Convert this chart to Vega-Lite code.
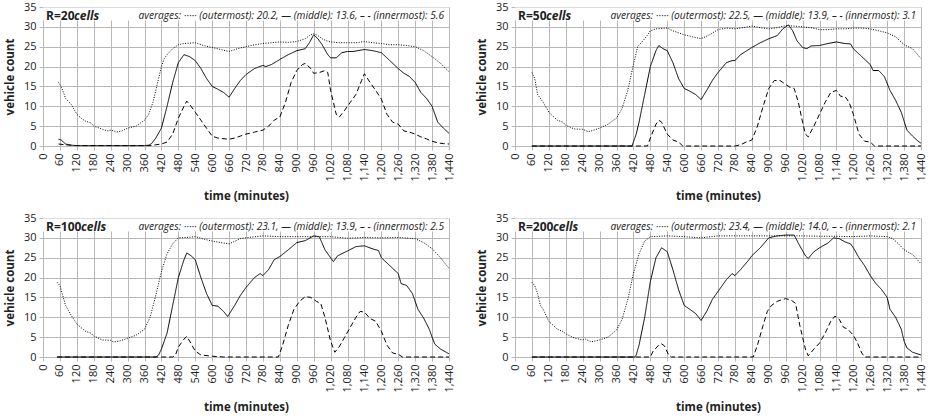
{
"$schema": "https://vega.github.io/schema/vega-lite/v6.json",
"padding": {"left": 4, "top": 1, "right": 5, "bottom": 0},
"config": {
  "font": "Open Sans",
  "view": {"stroke": null},
  "axis": {"grid": true, "labelOverlap": false, "labelBound": false, "gridColor": "#b8b8b8", "gridOpacity": 1, "domainColor": "#b8b8b8", "tickColor": "#b8b8b8", "labelFontSize": 11, "labelColor": "#222", "titleFontSize": 11.5, "titleFontWeight": "bold", "titleColor": "#222", "labelFont": "Open Sans", "titleFont": "Open Sans", "tickSize": 4}
},
"datasets": {
"d": [
{"R":20,"lane":"outermost","time":55,"vehicles":16},{"R":20,"lane":"outermost","time":60,"vehicles":15.5},{"R":20,"lane":"outermost","time":70,"vehicles":14},{"R":20,"lane":"outermost","time":80,"vehicles":12},{"R":20,"lane":"outermost","time":100,"vehicles":10.5},{"R":20,"lane":"outermost","time":120,"vehicles":8},{"R":20,"lane":"outermost","time":135,"vehicles":7},{"R":20,"lane":"outermost","time":150,"vehicles":6.3},{"R":20,"lane":"outermost","time":170,"vehicles":5.8},{"R":20,"lane":"outermost","time":180,"vehicles":5},{"R":20,"lane":"outermost","time":200,"vehicles":4.5},{"R":20,"lane":"outermost","time":215,"vehicles":4.1},{"R":20,"lane":"outermost","time":230,"vehicles":3.8},{"R":20,"lane":"outermost","time":240,"vehicles":4},{"R":20,"lane":"outermost","time":250,"vehicles":3.8},{"R":20,"lane":"outermost","time":260,"vehicles":3.5},{"R":20,"lane":"outermost","time":280,"vehicles":3.8},{"R":20,"lane":"outermost","time":300,"vehicles":4.5},{"R":20,"lane":"outermost","time":330,"vehicles":5},{"R":20,"lane":"outermost","time":350,"vehicles":6},{"R":20,"lane":"outermost","time":360,"vehicles":6.5},{"R":20,"lane":"outermost","time":375,"vehicles":8},{"R":20,"lane":"outermost","time":390,"vehicles":11},{"R":20,"lane":"outermost","time":400,"vehicles":14},{"R":20,"lane":"outermost","time":410,"vehicles":17},{"R":20,"lane":"outermost","time":420,"vehicles":20},{"R":20,"lane":"outermost","time":430,"vehicles":22},{"R":20,"lane":"outermost","time":440,"vehicles":23},{"R":20,"lane":"outermost","time":460,"vehicles":24.5},{"R":20,"lane":"outermost","time":480,"vehicles":25.5},{"R":20,"lane":"outermost","time":500,"vehicles":25.8},{"R":20,"lane":"outermost","time":540,"vehicles":26},{"R":20,"lane":"outermost","time":570,"vehicles":25.3},{"R":20,"lane":"outermost","time":600,"vehicles":24.8},{"R":20,"lane":"outermost","time":630,"vehicles":24.3},{"R":20,"lane":"outermost","time":660,"vehicles":23.8},{"R":20,"lane":"outermost","time":690,"vehicles":24.5},{"R":20,"lane":"outermost","time":720,"vehicles":25},{"R":20,"lane":"outermost","time":750,"vehicles":25.5},{"R":20,"lane":"outermost","time":780,"vehicles":25.8},{"R":20,"lane":"outermost","time":810,"vehicles":26},{"R":20,"lane":"outermost","time":840,"vehicles":26.2},{"R":20,"lane":"outermost","time":870,"vehicles":26.1},{"R":20,"lane":"outermost","time":900,"vehicles":26.3},{"R":20,"lane":"outermost","time":930,"vehicles":27},{"R":20,"lane":"outermost","time":945,"vehicles":27.8},{"R":20,"lane":"outermost","time":960,"vehicles":28.3},{"R":20,"lane":"outermost","time":975,"vehicles":27.8},{"R":20,"lane":"outermost","time":990,"vehicles":27},{"R":20,"lane":"outermost","time":1005,"vehicles":26.5},{"R":20,"lane":"outermost","time":1020,"vehicles":26.2},{"R":20,"lane":"outermost","time":1050,"vehicles":26},{"R":20,"lane":"outermost","time":1080,"vehicles":26},{"R":20,"lane":"outermost","time":1110,"vehicles":26},{"R":20,"lane":"outermost","time":1140,"vehicles":26.3},{"R":20,"lane":"outermost","time":1170,"vehicles":26},{"R":20,"lane":"outermost","time":1200,"vehicles":25.8},{"R":20,"lane":"outermost","time":1230,"vehicles":25.5},{"R":20,"lane":"outermost","time":1260,"vehicles":25.5},{"R":20,"lane":"outermost","time":1290,"vehicles":25.3},{"R":20,"lane":"outermost","time":1320,"vehicles":25},{"R":20,"lane":"outermost","time":1350,"vehicles":24},{"R":20,"lane":"outermost","time":1380,"vehicles":22.5},{"R":20,"lane":"outermost","time":1410,"vehicles":20.8},{"R":20,"lane":"outermost","time":1440,"vehicles":18.7},
{"R":20,"lane":"middle","time":55,"vehicles":1.7},{"R":20,"lane":"middle","time":65,"vehicles":1.5},{"R":20,"lane":"middle","time":80,"vehicles":0.5},{"R":20,"lane":"middle","time":100,"vehicles":0.2},{"R":20,"lane":"middle","time":120,"vehicles":0.1},{"R":20,"lane":"middle","time":360,"vehicles":0.1},{"R":20,"lane":"middle","time":375,"vehicles":0.2},{"R":20,"lane":"middle","time":385,"vehicles":0.6},{"R":20,"lane":"middle","time":400,"vehicles":2},{"R":20,"lane":"middle","time":420,"vehicles":4.5},{"R":20,"lane":"middle","time":440,"vehicles":10},{"R":20,"lane":"middle","time":460,"vehicles":16},{"R":20,"lane":"middle","time":480,"vehicles":21},{"R":20,"lane":"middle","time":500,"vehicles":23},{"R":20,"lane":"middle","time":520,"vehicles":22.5},{"R":20,"lane":"middle","time":540,"vehicles":21.5},{"R":20,"lane":"middle","time":560,"vehicles":19.5},{"R":20,"lane":"middle","time":580,"vehicles":17},{"R":20,"lane":"middle","time":600,"vehicles":15},{"R":20,"lane":"middle","time":620,"vehicles":14.3},{"R":20,"lane":"middle","time":640,"vehicles":13.5},{"R":20,"lane":"middle","time":660,"vehicles":12.3},{"R":20,"lane":"middle","time":680,"vehicles":14.5},{"R":20,"lane":"middle","time":700,"vehicles":16.5},{"R":20,"lane":"middle","time":720,"vehicles":18},{"R":20,"lane":"middle","time":750,"vehicles":19.5},{"R":20,"lane":"middle","time":780,"vehicles":20.3},{"R":20,"lane":"middle","time":790,"vehicles":20},{"R":20,"lane":"middle","time":810,"vehicles":20.5},{"R":20,"lane":"middle","time":840,"vehicles":21.8},{"R":20,"lane":"middle","time":870,"vehicles":23},{"R":20,"lane":"middle","time":900,"vehicles":24},{"R":20,"lane":"middle","time":930,"vehicles":24.5},{"R":20,"lane":"middle","time":945,"vehicles":26},{"R":20,"lane":"middle","time":960,"vehicles":28},{"R":20,"lane":"middle","time":975,"vehicles":27},{"R":20,"lane":"middle","time":990,"vehicles":25.5},{"R":20,"lane":"middle","time":1010,"vehicles":23},{"R":20,"lane":"middle","time":1020,"vehicles":22.2},{"R":20,"lane":"middle","time":1040,"vehicles":22.2},{"R":20,"lane":"middle","time":1060,"vehicles":23.5},{"R":20,"lane":"middle","time":1080,"vehicles":23.8},{"R":20,"lane":"middle","time":1100,"vehicles":23.8},{"R":20,"lane":"middle","time":1140,"vehicles":24.3},{"R":20,"lane":"middle","time":1170,"vehicles":24},{"R":20,"lane":"middle","time":1200,"vehicles":23.5},{"R":20,"lane":"middle","time":1230,"vehicles":21.5},{"R":20,"lane":"middle","time":1260,"vehicles":19.5},{"R":20,"lane":"middle","time":1280,"vehicles":18.3},{"R":20,"lane":"middle","time":1300,"vehicles":17.5},{"R":20,"lane":"middle","time":1320,"vehicles":16},{"R":20,"lane":"middle","time":1340,"vehicles":13.5},{"R":20,"lane":"middle","time":1360,"vehicles":12},{"R":20,"lane":"middle","time":1380,"vehicles":10},{"R":20,"lane":"middle","time":1400,"vehicles":6},{"R":20,"lane":"middle","time":1420,"vehicles":4.5},{"R":20,"lane":"middle","time":1440,"vehicles":3.2},
{"R":20,"lane":"innermost","time":55,"vehicles":0.5},{"R":20,"lane":"innermost","time":80,"vehicles":0.3},{"R":20,"lane":"innermost","time":120,"vehicles":0.1},{"R":20,"lane":"innermost","time":380,"vehicles":0.1},{"R":20,"lane":"innermost","time":400,"vehicles":0.3},{"R":20,"lane":"innermost","time":420,"vehicles":0.5},{"R":20,"lane":"innermost","time":440,"vehicles":1},{"R":20,"lane":"innermost","time":460,"vehicles":3},{"R":20,"lane":"innermost","time":480,"vehicles":7},{"R":20,"lane":"innermost","time":500,"vehicles":10},{"R":20,"lane":"innermost","time":510,"vehicles":11.3},{"R":20,"lane":"innermost","time":520,"vehicles":10.5},{"R":20,"lane":"innermost","time":540,"vehicles":8.5},{"R":20,"lane":"innermost","time":560,"vehicles":6.5},{"R":20,"lane":"innermost","time":580,"vehicles":4.5},{"R":20,"lane":"innermost","time":600,"vehicles":2.5},{"R":20,"lane":"innermost","time":620,"vehicles":2},{"R":20,"lane":"innermost","time":660,"vehicles":1.7},{"R":20,"lane":"innermost","time":680,"vehicles":2},{"R":20,"lane":"innermost","time":700,"vehicles":2.5},{"R":20,"lane":"innermost","time":720,"vehicles":3},{"R":20,"lane":"innermost","time":750,"vehicles":3.5},{"R":20,"lane":"innermost","time":780,"vehicles":4},{"R":20,"lane":"innermost","time":800,"vehicles":5},{"R":20,"lane":"innermost","time":820,"vehicles":6.5},{"R":20,"lane":"innermost","time":840,"vehicles":7.3},{"R":20,"lane":"innermost","time":860,"vehicles":11},{"R":20,"lane":"innermost","time":880,"vehicles":16},{"R":20,"lane":"innermost","time":900,"vehicles":19},{"R":20,"lane":"innermost","time":920,"vehicles":20.5},{"R":20,"lane":"innermost","time":930,"vehicles":20.8},{"R":20,"lane":"innermost","time":950,"vehicles":19.5},{"R":20,"lane":"innermost","time":960,"vehicles":18.3},{"R":20,"lane":"innermost","time":980,"vehicles":18.5},{"R":20,"lane":"innermost","time":1000,"vehicles":19},{"R":20,"lane":"innermost","time":1010,"vehicles":18.5},{"R":20,"lane":"innermost","time":1020,"vehicles":14},{"R":20,"lane":"innermost","time":1040,"vehicles":8},{"R":20,"lane":"innermost","time":1050,"vehicles":7.2},{"R":20,"lane":"innermost","time":1070,"vehicles":9},{"R":20,"lane":"innermost","time":1090,"vehicles":11},{"R":20,"lane":"innermost","time":1110,"vehicles":13},{"R":20,"lane":"innermost","time":1130,"vehicles":16.5},{"R":20,"lane":"innermost","time":1140,"vehicles":18.2},{"R":20,"lane":"innermost","time":1160,"vehicles":16},{"R":20,"lane":"innermost","time":1180,"vehicles":14},{"R":20,"lane":"innermost","time":1200,"vehicles":11.8},{"R":20,"lane":"innermost","time":1220,"vehicles":8},{"R":20,"lane":"innermost","time":1240,"vehicles":6},{"R":20,"lane":"innermost","time":1260,"vehicles":5.5},{"R":20,"lane":"innermost","time":1280,"vehicles":3.8},{"R":20,"lane":"innermost","time":1300,"vehicles":3.5},{"R":20,"lane":"innermost","time":1320,"vehicles":3},{"R":20,"lane":"innermost","time":1340,"vehicles":2.3},{"R":20,"lane":"innermost","time":1360,"vehicles":1.8},{"R":20,"lane":"innermost","time":1380,"vehicles":1.2},{"R":20,"lane":"innermost","time":1400,"vehicles":0.8},{"R":20,"lane":"innermost","time":1420,"vehicles":0.6},{"R":20,"lane":"innermost","time":1440,"vehicles":0.5},
{"R":50,"lane":"outermost","time":60,"vehicles":18.5},{"R":50,"lane":"outermost","time":70,"vehicles":17},{"R":50,"lane":"outermost","time":80,"vehicles":13},{"R":50,"lane":"outermost","time":100,"vehicles":11},{"R":50,"lane":"outermost","time":120,"vehicles":8.5},{"R":50,"lane":"outermost","time":150,"vehicles":6.5},{"R":50,"lane":"outermost","time":170,"vehicles":6},{"R":50,"lane":"outermost","time":180,"vehicles":5.2},{"R":50,"lane":"outermost","time":210,"vehicles":4.3},{"R":50,"lane":"outermost","time":240,"vehicles":4.2},{"R":50,"lane":"outermost","time":260,"vehicles":3.6},{"R":50,"lane":"outermost","time":280,"vehicles":4},{"R":50,"lane":"outermost","time":300,"vehicles":4.5},{"R":50,"lane":"outermost","time":330,"vehicles":5.5},{"R":50,"lane":"outermost","time":360,"vehicles":7},{"R":50,"lane":"outermost","time":380,"vehicles":9.5},{"R":50,"lane":"outermost","time":400,"vehicles":14},{"R":50,"lane":"outermost","time":420,"vehicles":20.5},{"R":50,"lane":"outermost","time":435,"vehicles":25},{"R":50,"lane":"outermost","time":460,"vehicles":27},{"R":50,"lane":"outermost","time":480,"vehicles":29},{"R":50,"lane":"outermost","time":500,"vehicles":29.5},{"R":50,"lane":"outermost","time":540,"vehicles":29.7},{"R":50,"lane":"outermost","time":560,"vehicles":29},{"R":50,"lane":"outermost","time":600,"vehicles":28},{"R":50,"lane":"outermost","time":630,"vehicles":27.5},{"R":50,"lane":"outermost","time":660,"vehicles":27},{"R":50,"lane":"outermost","time":690,"vehicles":28},{"R":50,"lane":"outermost","time":720,"vehicles":29.3},{"R":50,"lane":"outermost","time":750,"vehicles":29.7},{"R":50,"lane":"outermost","time":780,"vehicles":29.5},{"R":50,"lane":"outermost","time":810,"vehicles":29.8},{"R":50,"lane":"outermost","time":840,"vehicles":30.2},{"R":50,"lane":"outermost","time":870,"vehicles":29.8},{"R":50,"lane":"outermost","time":900,"vehicles":29.5},{"R":50,"lane":"outermost","time":930,"vehicles":29.8},{"R":50,"lane":"outermost","time":960,"vehicles":30.3},{"R":50,"lane":"outermost","time":990,"vehicles":30.2},{"R":50,"lane":"outermost","time":1020,"vehicles":30},{"R":50,"lane":"outermost","time":1050,"vehicles":29.8},{"R":50,"lane":"outermost","time":1080,"vehicles":29.3},{"R":50,"lane":"outermost","time":1110,"vehicles":29.3},{"R":50,"lane":"outermost","time":1140,"vehicles":29.5},{"R":50,"lane":"outermost","time":1170,"vehicles":29.5},{"R":50,"lane":"outermost","time":1200,"vehicles":29.7},{"R":50,"lane":"outermost","time":1230,"vehicles":29.7},{"R":50,"lane":"outermost","time":1260,"vehicles":29.5},{"R":50,"lane":"outermost","time":1290,"vehicles":29},{"R":50,"lane":"outermost","time":1320,"vehicles":28.5},{"R":50,"lane":"outermost","time":1350,"vehicles":27.5},{"R":50,"lane":"outermost","time":1380,"vehicles":25.5},{"R":50,"lane":"outermost","time":1410,"vehicles":24.5},{"R":50,"lane":"outermost","time":1440,"vehicles":22},
{"R":50,"lane":"middle","time":60,"vehicles":0},{"R":50,"lane":"middle","time":415,"vehicles":0},{"R":50,"lane":"middle","time":420,"vehicles":1},{"R":50,"lane":"middle","time":430,"vehicles":3},{"R":50,"lane":"middle","time":440,"vehicles":6},{"R":50,"lane":"middle","time":460,"vehicles":13},{"R":50,"lane":"middle","time":480,"vehicles":20},{"R":50,"lane":"middle","time":500,"vehicles":24},{"R":50,"lane":"middle","time":510,"vehicles":25.3},{"R":50,"lane":"middle","time":525,"vehicles":24.5},{"R":50,"lane":"middle","time":540,"vehicles":24},{"R":50,"lane":"middle","time":560,"vehicles":21},{"R":50,"lane":"middle","time":580,"vehicles":17},{"R":50,"lane":"middle","time":600,"vehicles":14.5},{"R":50,"lane":"middle","time":620,"vehicles":13.8},{"R":50,"lane":"middle","time":640,"vehicles":13},{"R":50,"lane":"middle","time":660,"vehicles":11.7},{"R":50,"lane":"middle","time":680,"vehicles":14},{"R":50,"lane":"middle","time":700,"vehicles":16.5},{"R":50,"lane":"middle","time":720,"vehicles":18.5},{"R":50,"lane":"middle","time":750,"vehicles":21},{"R":50,"lane":"middle","time":770,"vehicles":21.5},{"R":50,"lane":"middle","time":780,"vehicles":21.5},{"R":50,"lane":"middle","time":800,"vehicles":23},{"R":50,"lane":"middle","time":840,"vehicles":24.8},{"R":50,"lane":"middle","time":870,"vehicles":26},{"R":50,"lane":"middle","time":900,"vehicles":27},{"R":50,"lane":"middle","time":930,"vehicles":27.8},{"R":50,"lane":"middle","time":950,"vehicles":29.5},{"R":50,"lane":"middle","time":970,"vehicles":30.5},{"R":50,"lane":"middle","time":985,"vehicles":29},{"R":50,"lane":"middle","time":1000,"vehicles":26.5},{"R":50,"lane":"middle","time":1020,"vehicles":24.8},{"R":50,"lane":"middle","time":1035,"vehicles":24.5},{"R":50,"lane":"middle","time":1050,"vehicles":25.2},{"R":50,"lane":"middle","time":1080,"vehicles":25.3},{"R":50,"lane":"middle","time":1110,"vehicles":25.8},{"R":50,"lane":"middle","time":1140,"vehicles":26.2},{"R":50,"lane":"middle","time":1170,"vehicles":25.8},{"R":50,"lane":"middle","time":1190,"vehicles":25.7},{"R":50,"lane":"middle","time":1200,"vehicles":24.5},{"R":50,"lane":"middle","time":1230,"vehicles":22.5},{"R":50,"lane":"middle","time":1260,"vehicles":20.5},{"R":50,"lane":"middle","time":1270,"vehicles":19},{"R":50,"lane":"middle","time":1290,"vehicles":19},{"R":50,"lane":"middle","time":1310,"vehicles":17.5},{"R":50,"lane":"middle","time":1330,"vehicles":14},{"R":50,"lane":"middle","time":1350,"vehicles":11.5},{"R":50,"lane":"middle","time":1370,"vehicles":8.5},{"R":50,"lane":"middle","time":1390,"vehicles":4},{"R":50,"lane":"middle","time":1410,"vehicles":2.5},{"R":50,"lane":"middle","time":1430,"vehicles":1.2},{"R":50,"lane":"middle","time":1440,"vehicles":0.7},
{"R":50,"lane":"innermost","time":60,"vehicles":0},{"R":50,"lane":"innermost","time":470,"vehicles":0},{"R":50,"lane":"innermost","time":480,"vehicles":2},{"R":50,"lane":"innermost","time":500,"vehicles":5.5},{"R":50,"lane":"innermost","time":510,"vehicles":6.5},{"R":50,"lane":"innermost","time":520,"vehicles":6},{"R":50,"lane":"innermost","time":540,"vehicles":3},{"R":50,"lane":"innermost","time":560,"vehicles":1.5},{"R":50,"lane":"innermost","time":580,"vehicles":1},{"R":50,"lane":"innermost","time":595,"vehicles":0},{"R":50,"lane":"innermost","time":780,"vehicles":0},{"R":50,"lane":"innermost","time":800,"vehicles":0.3},{"R":50,"lane":"innermost","time":820,"vehicles":1},{"R":50,"lane":"innermost","time":840,"vehicles":1.5},{"R":50,"lane":"innermost","time":860,"vehicles":5},{"R":50,"lane":"innermost","time":880,"vehicles":10},{"R":50,"lane":"innermost","time":900,"vehicles":14.5},{"R":50,"lane":"innermost","time":920,"vehicles":16.5},{"R":50,"lane":"innermost","time":940,"vehicles":16.5},{"R":50,"lane":"innermost","time":960,"vehicles":15.5},{"R":50,"lane":"innermost","time":975,"vehicles":14.8},{"R":50,"lane":"innermost","time":990,"vehicles":14.5},{"R":50,"lane":"innermost","time":1005,"vehicles":11},{"R":50,"lane":"innermost","time":1020,"vehicles":6},{"R":50,"lane":"innermost","time":1030,"vehicles":3},{"R":50,"lane":"innermost","time":1040,"vehicles":2.3},{"R":50,"lane":"innermost","time":1060,"vehicles":5},{"R":50,"lane":"innermost","time":1080,"vehicles":8},{"R":50,"lane":"innermost","time":1100,"vehicles":11},{"R":50,"lane":"innermost","time":1120,"vehicles":13.5},{"R":50,"lane":"innermost","time":1140,"vehicles":14},{"R":50,"lane":"innermost","time":1155,"vehicles":12.5},{"R":50,"lane":"innermost","time":1170,"vehicles":12.5},{"R":50,"lane":"innermost","time":1185,"vehicles":11},{"R":50,"lane":"innermost","time":1200,"vehicles":8},{"R":50,"lane":"innermost","time":1220,"vehicles":3},{"R":50,"lane":"innermost","time":1240,"vehicles":1.2},{"R":50,"lane":"innermost","time":1260,"vehicles":1},{"R":50,"lane":"innermost","time":1275,"vehicles":0},{"R":50,"lane":"innermost","time":1440,"vehicles":0},
{"R":100,"lane":"outermost","time":50,"vehicles":18.8},{"R":100,"lane":"outermost","time":60,"vehicles":18},{"R":100,"lane":"outermost","time":80,"vehicles":13},{"R":100,"lane":"outermost","time":100,"vehicles":10.5},{"R":100,"lane":"outermost","time":120,"vehicles":8.3},{"R":100,"lane":"outermost","time":150,"vehicles":6.5},{"R":100,"lane":"outermost","time":170,"vehicles":6},{"R":100,"lane":"outermost","time":180,"vehicles":5.3},{"R":100,"lane":"outermost","time":210,"vehicles":4.3},{"R":100,"lane":"outermost","time":240,"vehicles":4.2},{"R":100,"lane":"outermost","time":250,"vehicles":3.8},{"R":100,"lane":"outermost","time":270,"vehicles":4},{"R":100,"lane":"outermost","time":300,"vehicles":4.7},{"R":100,"lane":"outermost","time":330,"vehicles":5.5},{"R":100,"lane":"outermost","time":360,"vehicles":7},{"R":100,"lane":"outermost","time":380,"vehicles":10},{"R":100,"lane":"outermost","time":400,"vehicles":15.5},{"R":100,"lane":"outermost","time":420,"vehicles":21.5},{"R":100,"lane":"outermost","time":440,"vehicles":26},{"R":100,"lane":"outermost","time":460,"vehicles":28.5},{"R":100,"lane":"outermost","time":480,"vehicles":30},{"R":100,"lane":"outermost","time":510,"vehicles":30.1},{"R":100,"lane":"outermost","time":540,"vehicles":30.3},{"R":100,"lane":"outermost","time":570,"vehicles":29.7},{"R":100,"lane":"outermost","time":600,"vehicles":29.2},{"R":100,"lane":"outermost","time":630,"vehicles":28.8},{"R":100,"lane":"outermost","time":660,"vehicles":28.5},{"R":100,"lane":"outermost","time":700,"vehicles":29.8},{"R":100,"lane":"outermost","time":740,"vehicles":30.2},{"R":100,"lane":"outermost","time":780,"vehicles":30.5},{"R":100,"lane":"outermost","time":840,"vehicles":30.3},{"R":100,"lane":"outermost","time":900,"vehicles":30.3},{"R":100,"lane":"outermost","time":960,"vehicles":30.3},{"R":100,"lane":"outermost","time":1020,"vehicles":30.3},{"R":100,"lane":"outermost","time":1080,"vehicles":29.9},{"R":100,"lane":"outermost","time":1140,"vehicles":30.1},{"R":100,"lane":"outermost","time":1200,"vehicles":30},{"R":100,"lane":"outermost","time":1260,"vehicles":30.1},{"R":100,"lane":"outermost","time":1320,"vehicles":29.8},{"R":100,"lane":"outermost","time":1350,"vehicles":28.8},{"R":100,"lane":"outermost","time":1380,"vehicles":27.3},{"R":100,"lane":"outermost","time":1410,"vehicles":25},{"R":100,"lane":"outermost","time":1440,"vehicles":22.3},
{"R":100,"lane":"middle","time":50,"vehicles":0},{"R":100,"lane":"middle","time":400,"vehicles":0},{"R":100,"lane":"middle","time":410,"vehicles":0.5},{"R":100,"lane":"middle","time":420,"vehicles":2},{"R":100,"lane":"middle","time":440,"vehicles":6},{"R":100,"lane":"middle","time":460,"vehicles":13},{"R":100,"lane":"middle","time":480,"vehicles":20},{"R":100,"lane":"middle","time":500,"vehicles":24.5},{"R":100,"lane":"middle","time":510,"vehicles":26.2},{"R":100,"lane":"middle","time":525,"vehicles":25.5},{"R":100,"lane":"middle","time":540,"vehicles":24.5},{"R":100,"lane":"middle","time":560,"vehicles":20},{"R":100,"lane":"middle","time":580,"vehicles":16},{"R":100,"lane":"middle","time":600,"vehicles":13},{"R":100,"lane":"middle","time":620,"vehicles":12.8},{"R":100,"lane":"middle","time":640,"vehicles":11.5},{"R":100,"lane":"middle","time":655,"vehicles":10.2},{"R":100,"lane":"middle","time":680,"vehicles":13},{"R":100,"lane":"middle","time":700,"vehicles":15.5},{"R":100,"lane":"middle","time":720,"vehicles":17.5},{"R":100,"lane":"middle","time":750,"vehicles":20},{"R":100,"lane":"middle","time":770,"vehicles":21},{"R":100,"lane":"middle","time":780,"vehicles":20.5},{"R":100,"lane":"middle","time":800,"vehicles":22},{"R":100,"lane":"middle","time":820,"vehicles":24.5},{"R":100,"lane":"middle","time":840,"vehicles":25.3},{"R":100,"lane":"middle","time":870,"vehicles":27},{"R":100,"lane":"middle","time":900,"vehicles":28.8},{"R":100,"lane":"middle","time":930,"vehicles":29.3},{"R":100,"lane":"middle","time":960,"vehicles":30.5},{"R":100,"lane":"middle","time":980,"vehicles":30.3},{"R":100,"lane":"middle","time":1000,"vehicles":27},{"R":100,"lane":"middle","time":1020,"vehicles":25},{"R":100,"lane":"middle","time":1030,"vehicles":24},{"R":100,"lane":"middle","time":1045,"vehicles":25.5},{"R":100,"lane":"middle","time":1080,"vehicles":26.7},{"R":100,"lane":"middle","time":1110,"vehicles":27.8},{"R":100,"lane":"middle","time":1140,"vehicles":28},{"R":100,"lane":"middle","time":1170,"vehicles":27.2},{"R":100,"lane":"middle","time":1190,"vehicles":26.8},{"R":100,"lane":"middle","time":1200,"vehicles":25},{"R":100,"lane":"middle","time":1230,"vehicles":23},{"R":100,"lane":"middle","time":1260,"vehicles":21},{"R":100,"lane":"middle","time":1270,"vehicles":18.5},{"R":100,"lane":"middle","time":1290,"vehicles":18},{"R":100,"lane":"middle","time":1310,"vehicles":16},{"R":100,"lane":"middle","time":1330,"vehicles":12},{"R":100,"lane":"middle","time":1350,"vehicles":9.8},{"R":100,"lane":"middle","time":1370,"vehicles":7},{"R":100,"lane":"middle","time":1380,"vehicles":5},{"R":100,"lane":"middle","time":1390,"vehicles":3.2},{"R":100,"lane":"middle","time":1410,"vehicles":2},{"R":100,"lane":"middle","time":1430,"vehicles":1.2},{"R":100,"lane":"middle","time":1440,"vehicles":0.8},
{"R":100,"lane":"innermost","time":50,"vehicles":0},{"R":100,"lane":"innermost","time":460,"vehicles":0},{"R":100,"lane":"innermost","time":470,"vehicles":0.5},{"R":100,"lane":"innermost","time":480,"vehicles":2.5},{"R":100,"lane":"innermost","time":500,"vehicles":4.5},{"R":100,"lane":"innermost","time":510,"vehicles":5.2},{"R":100,"lane":"innermost","time":520,"vehicles":4},{"R":100,"lane":"innermost","time":540,"vehicles":1.5},{"R":100,"lane":"innermost","time":560,"vehicles":0.5},{"R":100,"lane":"innermost","time":600,"vehicles":0.2},{"R":100,"lane":"innermost","time":640,"vehicles":0},{"R":100,"lane":"innermost","time":835,"vehicles":0},{"R":100,"lane":"innermost","time":850,"vehicles":3},{"R":100,"lane":"innermost","time":870,"vehicles":8},{"R":100,"lane":"innermost","time":890,"vehicles":12},{"R":100,"lane":"innermost","time":910,"vehicles":14},{"R":100,"lane":"innermost","time":930,"vehicles":15.2},{"R":100,"lane":"innermost","time":950,"vehicles":15},{"R":100,"lane":"innermost","time":970,"vehicles":14},{"R":100,"lane":"innermost","time":985,"vehicles":13.5},{"R":100,"lane":"innermost","time":1000,"vehicles":10},{"R":100,"lane":"innermost","time":1020,"vehicles":4},{"R":100,"lane":"innermost","time":1035,"vehicles":1.2},{"R":100,"lane":"innermost","time":1050,"vehicles":2.5},{"R":100,"lane":"innermost","time":1070,"vehicles":5},{"R":100,"lane":"innermost","time":1090,"vehicles":7.5},{"R":100,"lane":"innermost","time":1110,"vehicles":10},{"R":100,"lane":"innermost","time":1125,"vehicles":11.5},{"R":100,"lane":"innermost","time":1140,"vehicles":11.3},{"R":100,"lane":"innermost","time":1160,"vehicles":9.7},{"R":100,"lane":"innermost","time":1180,"vehicles":9},{"R":100,"lane":"innermost","time":1200,"vehicles":6.5},{"R":100,"lane":"innermost","time":1220,"vehicles":3},{"R":100,"lane":"innermost","time":1240,"vehicles":1},{"R":100,"lane":"innermost","time":1260,"vehicles":0.7},{"R":100,"lane":"innermost","time":1275,"vehicles":0},{"R":100,"lane":"innermost","time":1440,"vehicles":0},
{"R":200,"lane":"outermost","time":60,"vehicles":18.8},{"R":200,"lane":"outermost","time":70,"vehicles":18},{"R":200,"lane":"outermost","time":80,"vehicles":16},{"R":200,"lane":"outermost","time":90,"vehicles":13},{"R":200,"lane":"outermost","time":100,"vehicles":12},{"R":200,"lane":"outermost","time":120,"vehicles":9},{"R":200,"lane":"outermost","time":150,"vehicles":7},{"R":200,"lane":"outermost","time":170,"vehicles":6.4},{"R":200,"lane":"outermost","time":180,"vehicles":5.8},{"R":200,"lane":"outermost","time":210,"vehicles":4.8},{"R":200,"lane":"outermost","time":240,"vehicles":4.3},{"R":200,"lane":"outermost","time":250,"vehicles":4.5},{"R":200,"lane":"outermost","time":270,"vehicles":3.8},{"R":200,"lane":"outermost","time":300,"vehicles":4.3},{"R":200,"lane":"outermost","time":330,"vehicles":5},{"R":200,"lane":"outermost","time":360,"vehicles":6.8},{"R":200,"lane":"outermost","time":380,"vehicles":9.5},{"R":200,"lane":"outermost","time":400,"vehicles":14.5},{"R":200,"lane":"outermost","time":420,"vehicles":21},{"R":200,"lane":"outermost","time":440,"vehicles":26},{"R":200,"lane":"outermost","time":460,"vehicles":29.2},{"R":200,"lane":"outermost","time":480,"vehicles":30.3},{"R":200,"lane":"outermost","time":540,"vehicles":30.5},{"R":200,"lane":"outermost","time":600,"vehicles":30.3},{"R":200,"lane":"outermost","time":660,"vehicles":30},{"R":200,"lane":"outermost","time":720,"vehicles":30.5},{"R":200,"lane":"outermost","time":780,"vehicles":30.5},{"R":200,"lane":"outermost","time":840,"vehicles":30.5},{"R":200,"lane":"outermost","time":900,"vehicles":30.5},{"R":200,"lane":"outermost","time":960,"vehicles":30.5},{"R":200,"lane":"outermost","time":1020,"vehicles":30.5},{"R":200,"lane":"outermost","time":1080,"vehicles":30.4},{"R":200,"lane":"outermost","time":1140,"vehicles":30.4},{"R":200,"lane":"outermost","time":1200,"vehicles":30.3},{"R":200,"lane":"outermost","time":1260,"vehicles":30.5},{"R":200,"lane":"outermost","time":1320,"vehicles":30.3},{"R":200,"lane":"outermost","time":1340,"vehicles":29.8},{"R":200,"lane":"outermost","time":1360,"vehicles":28.5},{"R":200,"lane":"outermost","time":1380,"vehicles":27},{"R":200,"lane":"outermost","time":1410,"vehicles":25.8},{"R":200,"lane":"outermost","time":1440,"vehicles":23.5},
{"R":200,"lane":"middle","time":60,"vehicles":0},{"R":200,"lane":"middle","time":425,"vehicles":0},{"R":200,"lane":"middle","time":430,"vehicles":0.5},{"R":200,"lane":"middle","time":440,"vehicles":3},{"R":200,"lane":"middle","time":460,"vehicles":10},{"R":200,"lane":"middle","time":480,"vehicles":19},{"R":200,"lane":"middle","time":500,"vehicles":25},{"R":200,"lane":"middle","time":520,"vehicles":27.5},{"R":200,"lane":"middle","time":540,"vehicles":26.5},{"R":200,"lane":"middle","time":560,"vehicles":22},{"R":200,"lane":"middle","time":580,"vehicles":17},{"R":200,"lane":"middle","time":600,"vehicles":13},{"R":200,"lane":"middle","time":620,"vehicles":12},{"R":200,"lane":"middle","time":640,"vehicles":11},{"R":200,"lane":"middle","time":660,"vehicles":9.2},{"R":200,"lane":"middle","time":680,"vehicles":11.5},{"R":200,"lane":"middle","time":700,"vehicles":14.5},{"R":200,"lane":"middle","time":720,"vehicles":16.5},{"R":200,"lane":"middle","time":750,"vehicles":19.5},{"R":200,"lane":"middle","time":770,"vehicles":21},{"R":200,"lane":"middle","time":780,"vehicles":20.5},{"R":200,"lane":"middle","time":800,"vehicles":22},{"R":200,"lane":"middle","time":830,"vehicles":24.5},{"R":200,"lane":"middle","time":840,"vehicles":25.5},{"R":200,"lane":"middle","time":870,"vehicles":27.5},{"R":200,"lane":"middle","time":900,"vehicles":30},{"R":200,"lane":"middle","time":930,"vehicles":30.5},{"R":200,"lane":"middle","time":960,"vehicles":30.7},{"R":200,"lane":"middle","time":990,"vehicles":30.7},{"R":200,"lane":"middle","time":1010,"vehicles":28},{"R":200,"lane":"middle","time":1030,"vehicles":25.5},{"R":200,"lane":"middle","time":1040,"vehicles":24.8},{"R":200,"lane":"middle","time":1060,"vehicles":26.5},{"R":200,"lane":"middle","time":1080,"vehicles":27.5},{"R":200,"lane":"middle","time":1110,"vehicles":28.7},{"R":200,"lane":"middle","time":1130,"vehicles":30},{"R":200,"lane":"middle","time":1150,"vehicles":29.8},{"R":200,"lane":"middle","time":1170,"vehicles":29},{"R":200,"lane":"middle","time":1190,"vehicles":28.5},{"R":200,"lane":"middle","time":1200,"vehicles":27.5},{"R":200,"lane":"middle","time":1220,"vehicles":25},{"R":200,"lane":"middle","time":1240,"vehicles":23},{"R":200,"lane":"middle","time":1260,"vehicles":20.5},{"R":200,"lane":"middle","time":1280,"vehicles":18.5},{"R":200,"lane":"middle","time":1300,"vehicles":17},{"R":200,"lane":"middle","time":1320,"vehicles":15},{"R":200,"lane":"middle","time":1330,"vehicles":12},{"R":200,"lane":"middle","time":1350,"vehicles":10},{"R":200,"lane":"middle","time":1370,"vehicles":7},{"R":200,"lane":"middle","time":1380,"vehicles":4},{"R":200,"lane":"middle","time":1390,"vehicles":2.3},{"R":200,"lane":"middle","time":1410,"vehicles":1.2},{"R":200,"lane":"middle","time":1440,"vehicles":0.5},
{"R":200,"lane":"innermost","time":60,"vehicles":0},{"R":200,"lane":"innermost","time":480,"vehicles":0},{"R":200,"lane":"innermost","time":490,"vehicles":1.5},{"R":200,"lane":"innermost","time":510,"vehicles":3},{"R":200,"lane":"innermost","time":520,"vehicles":3.3},{"R":200,"lane":"innermost","time":530,"vehicles":2.8},{"R":200,"lane":"innermost","time":545,"vehicles":0.5},{"R":200,"lane":"innermost","time":555,"vehicles":0},{"R":200,"lane":"innermost","time":845,"vehicles":0},{"R":200,"lane":"innermost","time":860,"vehicles":3},{"R":200,"lane":"innermost","time":880,"vehicles":8},{"R":200,"lane":"innermost","time":895,"vehicles":11.5},{"R":200,"lane":"innermost","time":910,"vehicles":13},{"R":200,"lane":"innermost","time":930,"vehicles":14},{"R":200,"lane":"innermost","time":950,"vehicles":14.5},{"R":200,"lane":"innermost","time":960,"vehicles":14.7},{"R":200,"lane":"innermost","time":980,"vehicles":14.3},{"R":200,"lane":"innermost","time":995,"vehicles":13.5},{"R":200,"lane":"innermost","time":1010,"vehicles":8},{"R":200,"lane":"innermost","time":1030,"vehicles":2},{"R":200,"lane":"innermost","time":1040,"vehicles":0.3},{"R":200,"lane":"innermost","time":1060,"vehicles":2},{"R":200,"lane":"innermost","time":1080,"vehicles":3.5},{"R":200,"lane":"innermost","time":1100,"vehicles":6},{"R":200,"lane":"innermost","time":1120,"vehicles":9},{"R":200,"lane":"innermost","time":1135,"vehicles":10.3},{"R":200,"lane":"innermost","time":1150,"vehicles":9.5},{"R":200,"lane":"innermost","time":1165,"vehicles":7.5},{"R":200,"lane":"innermost","time":1180,"vehicles":7},{"R":200,"lane":"innermost","time":1200,"vehicles":5.5},{"R":200,"lane":"innermost","time":1215,"vehicles":3.5},{"R":200,"lane":"innermost","time":1230,"vehicles":1},{"R":200,"lane":"innermost","time":1240,"vehicles":0},{"R":200,"lane":"innermost","time":1440,"vehicles":0}
]
},
"vconcat": [
{"hconcat": [
{"width": 406, "height": 139, "layer": [
 {"data": {"name": "d"}, "transform": [{"filter": "datum.R == 20"}], "mark": {"type": "line", "color": "black", "strokeWidth": 1},
  "encoding": {
   "x": {"field": "time", "type": "quantitative", "scale": {"domain": [0, 1440], "nice": false}, "axis": {"grid": true, "tickCount": 30, "values": [0,60,120,180,240,300,360,420,480,540,600,660,720,780,840,900,960,1020,1080,1140,1200,1260,1320,1380,1440], "labelAngle": 270, "format": ",d", "title": "time (minutes)", "labelPadding": 3, "titlePadding": 9}},
   "y": {"field": "vehicles", "type": "quantitative", "scale": {"domain": [0, 35], "nice": false}, "axis": {"grid": true, "tickCount": 10, "values": [0,5,10,15,20,25,30,35], "title": "vehicle count", "labelPadding": 3, "titlePadding": 8}},
   "detail": {"field": "lane"},
   "strokeDash": {"field": "lane", "type": "nominal", "scale": {"domain": ["outermost", "middle", "innermost"], "range": [[1, 1.5], [1, 0], [5, 3]]}, "legend": null}
  }},
 {"data": {"values": [{}]}, "mark": {"type": "rect", "fill": "white"}, "encoding": {"x": {"datum": 0}, "x2": {"datum": 1440}, "y": {"datum": 31.6}, "y2": {"datum": 34.85}}},
 {"data": {"values": [{}]}, "mark": {"type": "text", "text": "R=20", "align": "left", "baseline": "middle", "dx": 3, "fontWeight": "bold", "fontSize": 12, "color": "#222"}, "encoding": {"x": {"datum": 0}, "y": {"datum": 32.8}}},
 {"data": {"values": [{}]}, "mark": {"type": "text", "text": "cells", "align": "left", "baseline": "middle", "dx": 31, "fontWeight": "bold", "fontStyle": "italic", "fontSize": 12, "color": "#222"}, "encoding": {"x": {"datum": 0}, "y": {"datum": 32.8}}},
 {"data": {"values": [{}]}, "mark": {"type": "text", "text": "averages: ····· (outermost): 20.2, — (middle): 13.6, – - (innermost): 5.6", "align": "right", "baseline": "middle", "dx": -5, "fontStyle": "italic", "fontSize": 10.2, "color": "#222"}, "encoding": {"x": {"datum": 1440}, "y": {"datum": 32.8}}}
]},
{"width": 406, "height": 139, "layer": [
 {"data": {"name": "d"}, "transform": [{"filter": "datum.R == 50"}], "mark": {"type": "line", "color": "black", "strokeWidth": 1},
  "encoding": {
   "x": {"field": "time", "type": "quantitative", "scale": {"domain": [0, 1440], "nice": false}, "axis": {"grid": true, "tickCount": 30, "values": [0,60,120,180,240,300,360,420,480,540,600,660,720,780,840,900,960,1020,1080,1140,1200,1260,1320,1380,1440], "labelAngle": 270, "format": ",d", "title": "time (minutes)", "labelPadding": 3, "titlePadding": 9}},
   "y": {"field": "vehicles", "type": "quantitative", "scale": {"domain": [0, 35], "nice": false}, "axis": {"grid": true, "tickCount": 10, "values": [0,5,10,15,20,25,30,35], "title": "vehicle count", "labelPadding": 3, "titlePadding": 8}},
   "detail": {"field": "lane"},
   "strokeDash": {"field": "lane", "type": "nominal", "scale": {"domain": ["outermost", "middle", "innermost"], "range": [[1, 1.5], [1, 0], [5, 3]]}, "legend": null}
  }},
 {"data": {"values": [{}]}, "mark": {"type": "rect", "fill": "white"}, "encoding": {"x": {"datum": 0}, "x2": {"datum": 1440}, "y": {"datum": 31.6}, "y2": {"datum": 34.85}}},
 {"data": {"values": [{}]}, "mark": {"type": "text", "text": "R=50", "align": "left", "baseline": "middle", "dx": 3, "fontWeight": "bold", "fontSize": 12, "color": "#222"}, "encoding": {"x": {"datum": 0}, "y": {"datum": 32.8}}},
 {"data": {"values": [{}]}, "mark": {"type": "text", "text": "cells", "align": "left", "baseline": "middle", "dx": 31, "fontWeight": "bold", "fontStyle": "italic", "fontSize": 12, "color": "#222"}, "encoding": {"x": {"datum": 0}, "y": {"datum": 32.8}}},
 {"data": {"values": [{}]}, "mark": {"type": "text", "text": "averages: ····· (outermost): 22.5, — (middle): 13.9, – - (innermost): 3.1", "align": "right", "baseline": "middle", "dx": -5, "fontStyle": "italic", "fontSize": 10.2, "color": "#222"}, "encoding": {"x": {"datum": 1440}, "y": {"datum": 32.8}}}
]}
], "spacing": 22},
{"hconcat": [
{"width": 406, "height": 139, "layer": [
 {"data": {"name": "d"}, "transform": [{"filter": "datum.R == 100"}], "mark": {"type": "line", "color": "black", "strokeWidth": 1},
  "encoding": {
   "x": {"field": "time", "type": "quantitative", "scale": {"domain": [0, 1440], "nice": false}, "axis": {"grid": true, "tickCount": 30, "values": [0,60,120,180,240,300,360,420,480,540,600,660,720,780,840,900,960,1020,1080,1140,1200,1260,1320,1380,1440], "labelAngle": 270, "format": ",d", "title": "time (minutes)", "labelPadding": 3, "titlePadding": 9}},
   "y": {"field": "vehicles", "type": "quantitative", "scale": {"domain": [0, 35], "nice": false}, "axis": {"grid": true, "tickCount": 10, "values": [0,5,10,15,20,25,30,35], "title": "vehicle count", "labelPadding": 3, "titlePadding": 8}},
   "detail": {"field": "lane"},
   "strokeDash": {"field": "lane", "type": "nominal", "scale": {"domain": ["outermost", "middle", "innermost"], "range": [[1, 1.5], [1, 0], [5, 3]]}, "legend": null}
  }},
 {"data": {"values": [{}]}, "mark": {"type": "rect", "fill": "white"}, "encoding": {"x": {"datum": 0}, "x2": {"datum": 1440}, "y": {"datum": 31.6}, "y2": {"datum": 34.85}}},
 {"data": {"values": [{}]}, "mark": {"type": "text", "text": "R=100", "align": "left", "baseline": "middle", "dx": 3, "fontWeight": "bold", "fontSize": 12, "color": "#222"}, "encoding": {"x": {"datum": 0}, "y": {"datum": 32.8}}},
 {"data": {"values": [{}]}, "mark": {"type": "text", "text": "cells", "align": "left", "baseline": "middle", "dx": 38, "fontWeight": "bold", "fontStyle": "italic", "fontSize": 12, "color": "#222"}, "encoding": {"x": {"datum": 0}, "y": {"datum": 32.8}}},
 {"data": {"values": [{}]}, "mark": {"type": "text", "text": "averages: ····· (outermost): 23.1, — (middle): 13.9, – - (innermost): 2.5", "align": "right", "baseline": "middle", "dx": -5, "fontStyle": "italic", "fontSize": 10.2, "color": "#222"}, "encoding": {"x": {"datum": 1440}, "y": {"datum": 32.8}}}
]},
{"width": 406, "height": 139, "layer": [
 {"data": {"name": "d"}, "transform": [{"filter": "datum.R == 200"}], "mark": {"type": "line", "color": "black", "strokeWidth": 1},
  "encoding": {
   "x": {"field": "time", "type": "quantitative", "scale": {"domain": [0, 1440], "nice": false}, "axis": {"grid": true, "tickCount": 30, "values": [0,60,120,180,240,300,360,420,480,540,600,660,720,780,840,900,960,1020,1080,1140,1200,1260,1320,1380,1440], "labelAngle": 270, "format": ",d", "title": "time (minutes)", "labelPadding": 3, "titlePadding": 9}},
   "y": {"field": "vehicles", "type": "quantitative", "scale": {"domain": [0, 35], "nice": false}, "axis": {"grid": true, "tickCount": 10, "values": [0,5,10,15,20,25,30,35], "title": "vehicle count", "labelPadding": 3, "titlePadding": 8}},
   "detail": {"field": "lane"},
   "strokeDash": {"field": "lane", "type": "nominal", "scale": {"domain": ["outermost", "middle", "innermost"], "range": [[1, 1.5], [1, 0], [5, 3]]}, "legend": null}
  }},
 {"data": {"values": [{}]}, "mark": {"type": "rect", "fill": "white"}, "encoding": {"x": {"datum": 0}, "x2": {"datum": 1440}, "y": {"datum": 31.6}, "y2": {"datum": 34.85}}},
 {"data": {"values": [{}]}, "mark": {"type": "text", "text": "R=200", "align": "left", "baseline": "middle", "dx": 3, "fontWeight": "bold", "fontSize": 12, "color": "#222"}, "encoding": {"x": {"datum": 0}, "y": {"datum": 32.8}}},
 {"data": {"values": [{}]}, "mark": {"type": "text", "text": "cells", "align": "left", "baseline": "middle", "dx": 38, "fontWeight": "bold", "fontStyle": "italic", "fontSize": 12, "color": "#222"}, "encoding": {"x": {"datum": 0}, "y": {"datum": 32.8}}},
 {"data": {"values": [{}]}, "mark": {"type": "text", "text": "averages: ····· (outermost): 23.4, — (middle): 14.0, – - (innermost): 2.1", "align": "right", "baseline": "middle", "dx": -5, "fontStyle": "italic", "fontSize": 10.2, "color": "#222"}, "encoding": {"x": {"datum": 1440}, "y": {"datum": 32.8}}}
]}
], "spacing": 22}
],
"spacing": 10
}
